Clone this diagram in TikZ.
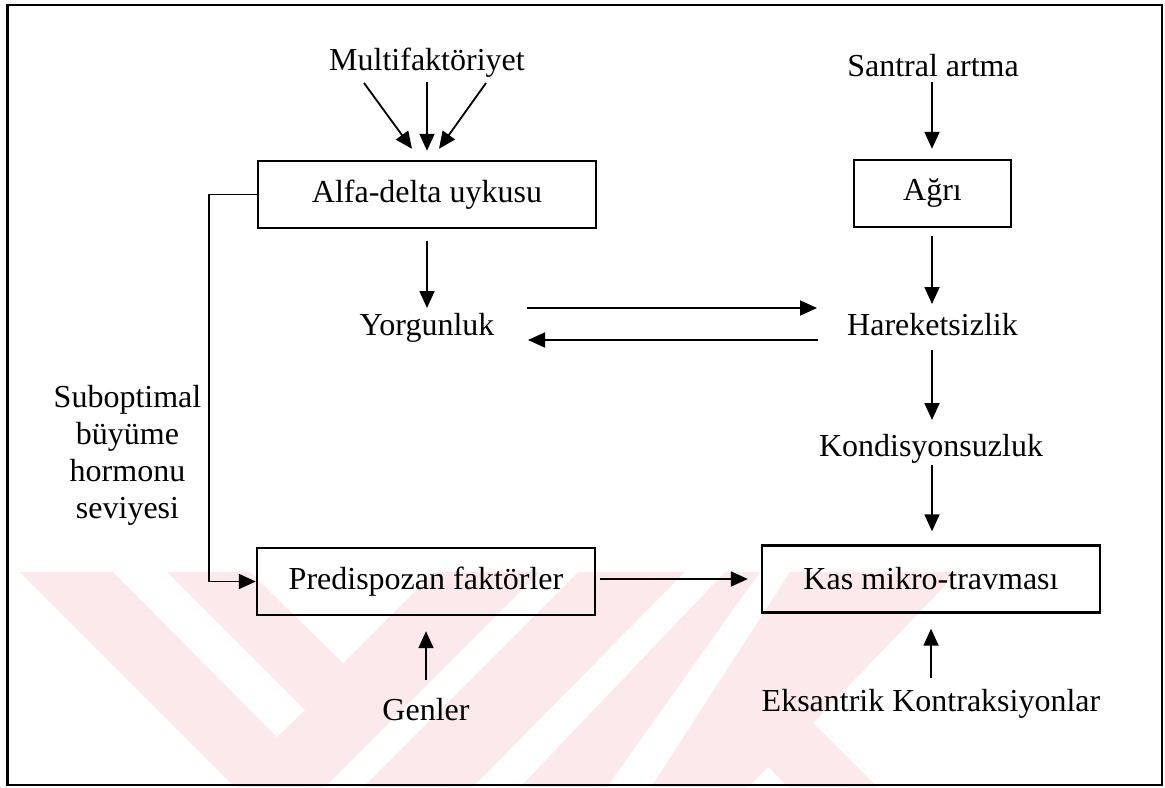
\documentclass[tikz,border=0pt]{standalone}
\usepackage{fontspec}
\setmainfont{Liberation Serif}
\usetikzlibrary{arrows.meta,calc}
\definecolor{wm}{RGB}{252,233,236}
\begin{document}
\begin{tikzpicture}[x=0.5pt,y=-0.5pt,
  every node/.style={font=\fontsize{16}{18.5}\selectfont, inner sep=0pt},
  box/.style={draw, line width=1.2pt, minimum width=169pt, minimum height=33.5pt},
  lbl/.style={anchor=base},
  arr/.style={line width=0.9pt, -{Triangle[length=8.5pt,width=7.5pt]}}]
\useasboundingbox (0,0) rectangle (1165,787);
% watermark (faint background)
\fill[wm] (20,572) -- (958,572) -- (813,723) -- (877,787) -- (235,787) -- cycle;
\fill[white] (113,572) -- (167,572) -- (305,710) -- (277,737) -- cycle;
\fill[white] (250,572) -- (343,663) -- (434,572) -- cycle;
\fill[white] (325,787) -- (363,787) -- (578,572) -- (540,572) -- cycle;
\fill[white] (473,787) -- (520,787) -- (725,572) -- (685,572) -- cycle;
\fill[white] (607,787) -- (651,787) -- (790,572) -- (760,572) -- cycle;
\fill[white] (748,787) -- (768,767) -- (788,787) -- cycle;
% frame
\draw[line width=1.3pt] (7.5,5) rectangle (1162,785);
% boxes
\node[box] (alfa) at (427,194.5) {Alfa-delta uykusu};
\node[box, minimum width=78.5pt] (agri) at (932.5,193.5) {Ağrı};
\node[box] (pred) at (426,581.5) {Predispozan faktörler};
\node[box] (kas) at (931,579) {Kas mikro-travması};
% labels
\node[lbl] (multi) at (427,70) {Multifaktöriyet};
\node[lbl] (sant) at (933,76) {Santral artma};
\node[lbl] (yorg) at (427,335) {Yorgunluk};
\node[lbl] (hark) at (932.5,335) {Hareketsizlik};
\node[lbl] (kond) at (931,456) {Kondisyonsuzluk};
\node[lbl] (genl) at (426,720) {Genler};
\node[lbl] (eks) at (931,711) {Eksantrik Kontraksiyonlar};
\node[align=center] (subopt) at (127.5,455.5) {Suboptimal\\büyüme\\hormonu\\seviyesi};
% connectors
\draw[arr] ($(multi.base)+(-63,13)$) -- ($(alfa.north)+(-15,-11)$);
\draw[arr] ($(multi.base)+(0,12)$) -- ($(alfa.north)+(0,-9)$);
\draw[arr] ($(multi.base)+(59,13)$) -- ($(alfa.north)+(12,-11)$);
\draw[arr] ($(sant.base)+(-1,6)$) -- ($(agri.north)+(-0.5,-10)$);
\draw[arr] ($(alfa.south)+(0,12)$) -- ($(yorg.base)+(0,-27)$);
\draw[arr] ($(agri.south)+(-0.5,8)$) -- ($(hark.base)+(-0.5,-31)$);
\draw[arr] ($(yorg.base)+(100,-27)$) -- ($(hark.base)+(-115.5,-27)$);
\draw[arr] ($(hark.base)+(-114.5,5)$) -- ($(yorg.base)+(101,5)$);
\draw[arr] ($(hark.base)+(-0.5,15)$) -- ($(kond.base)+(1,-36)$);
\draw[arr] ($(kond.base)+(1,9)$) -- ($(kas.north)+(1,-13)$);
\draw[arr] ($(eks.base)+(0,-33)$) -- ($(kas.south)+(0,15)$);
\draw[arr] ($(genl.base)+(0,-40)$) -- ($(pred.south)+(0,15)$);
\draw[arr] ($(pred.east)+(4,-2.5)$) -- ($(kas.west)+(-13,0)$);
\draw[arr] (alfa.west) -- ++(-48,0) |- (pred.west);
\end{tikzpicture}
\end{document}
